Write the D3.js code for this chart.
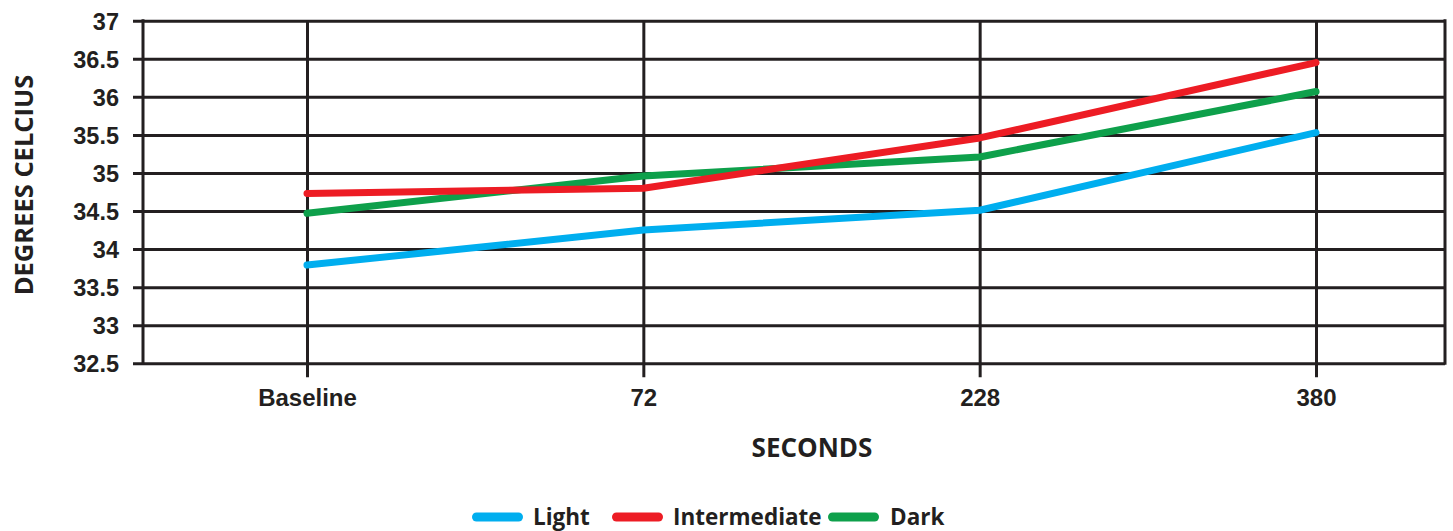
<!DOCTYPE html>
<html>
<head>
<meta charset="utf-8">
<script src="https://cdn.jsdelivr.net/npm/d3@7/dist/d3.min.js"></script>
<style>
  html, body { margin: 0; padding: 0; background: #fff; }
  svg { display: block; font-family: "Open Sans", "Noto Sans", sans-serif; }
</style>
</head>
<body>
<svg id="chart" width="1453" height="531"></svg>
<script>
// Temperature readings (°C) at each time point
const categories = ["Baseline", "72", "228", "380"];
const yTicks = [32.5, 33, 33.5, 34, 34.5, 35, 35.5, 36, 36.5, 37];
const light = [33.79, 34.25, 34.51, 35.53];
const intermediate = [34.73, 34.80, 35.46, 36.45];
const dark = [34.47, 34.96, 35.21, 36.07];

const seriesNames = ["Light", "Intermediate", "Dark"];
const seriesColors = ["#00aeef", "#ed1c24", "#0ea04b"];
const seriesValues = [light, intermediate, dark];

const ink = "#231f20";
const svg = d3.select("#chart");

const frame = { left: 143, right: 1445, top: 20.7, bottom: 363.3 };

const x = d3.scalePoint().domain(categories).range([307, 1316]);
const y = d3.scaleLinear().domain([32.5, 37]).range([frame.bottom, frame.top]);

// Horizontal gridlines with left tick stubs
const yAxis = d3.axisLeft(y)
  .tickValues(yTicks)
  .tickSize(frame.right - frame.left + 10)
  .tickSizeOuter(0)
  .tickFormat(d => d3.format("")(d));

const gy = svg.append("g")
  .attr("transform", `translate(${frame.right},0)`)
  .call(yAxis);
gy.select(".domain").remove();
gy.selectAll(".tick line").attr("stroke", ink).attr("stroke-width", 3);
gy.selectAll(".tick text")
  .attr("x", -(frame.right - frame.left) - 24)
  .attr("fill", ink)
  .attr("font-size", 23.5)
  .attr("font-weight", 600)
  .attr("dy", "0.36em");

// Frame sides
svg.append("line")
  .attr("x1", frame.left).attr("x2", frame.left)
  .attr("y1", frame.top - 1.5).attr("y2", frame.bottom + 1.5)
  .attr("stroke", ink).attr("stroke-width", 3);
svg.append("line")
  .attr("x1", frame.right).attr("x2", frame.right)
  .attr("y1", frame.top - 1.5).attr("y2", frame.bottom + 1.5)
  .attr("stroke", ink).attr("stroke-width", 3);

// Vertical category lines extending below the frame as ticks
const xAxis = d3.axisBottom(x)
  .tickSize(-(frame.bottom - frame.top))
  .tickSizeOuter(0)
  .tickPadding(0);
const gx = svg.append("g")
  .attr("transform", `translate(0,${frame.bottom})`)
  .call(xAxis);
gx.select(".domain").remove();
gx.selectAll(".tick line")
  .attr("y1", 14)
  .attr("stroke", ink).attr("stroke-width", 3);
gx.selectAll(".tick text")
  .attr("y", 42.5)
  .attr("dy", 0)
  .attr("fill", ink)
  .attr("font-size", 24)
  .attr("font-weight", 700);

// Axis titles
svg.append("text")
  .attr("x", 812).attr("y", 457)
  .attr("text-anchor", "middle")
  .attr("fill", ink)
  .attr("font-size", 26)
  .attr("font-weight", 700)
  .text("SECONDS");

svg.append("text")
  .attr("transform", "translate(33,185) rotate(-90)")
  .attr("text-anchor", "middle")
  .attr("fill", ink)
  .attr("font-size", 25.5)
  .attr("font-weight", 700)
  .text("DEGREES CELCIUS");

// Series lines (Intermediate drawn on top)
const line = d3.line()
  .x((d, i) => x(categories[i]))
  .y(d => y(d));

const drawOrder = [0, 2, 1];
drawOrder.forEach(k => {
  svg.append("path")
    .datum(seriesValues[k])
    .attr("d", line)
    .attr("fill", "none")
    .attr("stroke", seriesColors[k])
    .attr("stroke-width", 7)
    .attr("stroke-linecap", "round")
    .attr("stroke-linejoin", "round");
});

// Legend
const legendItems = [
  { x: 476.5, tx: 533 },
  { x: 616.5, tx: 673 },
  { x: 832.5, tx: 890 }
];
const legend = svg.append("g");
seriesNames.forEach((name, k) => {
  const it = legendItems[k];
  legend.append("line")
    .attr("x1", it.x).attr("x2", it.x + 42)
    .attr("y1", 517).attr("y2", 517)
    .attr("stroke", seriesColors[k])
    .attr("stroke-width", 9)
    .attr("stroke-linecap", "round");
  legend.append("text")
    .attr("x", it.tx).attr("y", 525)
    .attr("fill", ink)
    .attr("font-size", 22.5)
    .attr("font-weight", 700)
    .text(name);
});
</script>
</body>
</html>
